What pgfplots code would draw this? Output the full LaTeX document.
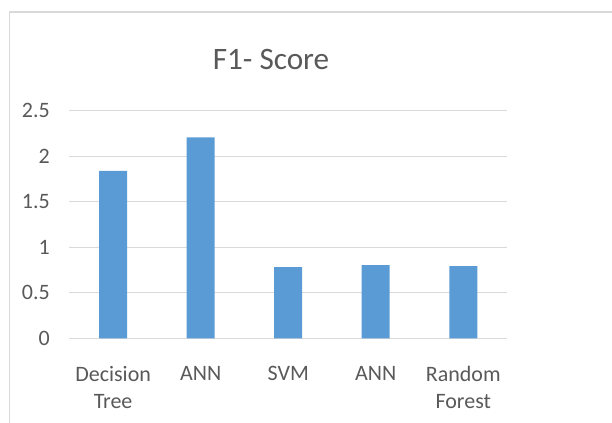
\documentclass[border=0pt]{standalone}
\usepackage{pgfplots}
\pgfplotsset{compat=1.18}
\usepackage{fontspec}
\setmainfont{Carlito}
\definecolor{barblue}{HTML}{5B9BD5}
\definecolor{gridgray}{HTML}{D9D9D9}
\definecolor{txtgray}{HTML}{595959}
\begin{document}
\begin{tikzpicture}
\path[use as bounding box] (0,0) rectangle (459pt,317.25pt);
\draw[gridgray, line width=1pt] (6.9pt,0) -- (6.9pt,308.25pt) -- (459pt,308.25pt);
\node[anchor=base, text=txtgray, font=\fontsize{23.4}{27}\selectfont, inner sep=0pt] at (203.25pt,264.75pt) {F1- Score};
\begin{axis}[
  at={(52pt,63.5pt)}, anchor=south west,
  scale only axis, width=328.3pt, height=170.7pt,
  xmin=-0.5, xmax=4.5, ymin=0, ymax=2.5,
  ybar, bar width=21pt, bar shift=0pt,
  xtick={0,1,2,3,4},
  xticklabels={{Decision\\Tree},ANN,SVM,ANN,{Random\\Forest}},
  ytick={0,0.5,1,1.5,2,2.5},
  yticklabels={0,0.5,1,1.5,2,2.5},
  axis line style={draw=none},
  major tick style={draw=none},
  ymajorgrids,
  grid style={gridgray, line width=1pt},
  xticklabel style={anchor=north, align=center, inner sep=0pt, yshift=-16.5pt, text=txtgray, font=\fontsize{16.5}{20.2}\selectfont},
  yticklabel style={anchor=east, inner sep=0pt, xshift=-14.5pt, text=txtgray, font=\fontsize{16.5}{18}\selectfont},
]
\addplot[fill=barblue, draw=none] coordinates {(0,1.838) (1,2.208) (2,0.783) (3,0.805) (4,0.794)};
\end{axis}
\end{tikzpicture}
\end{document}
